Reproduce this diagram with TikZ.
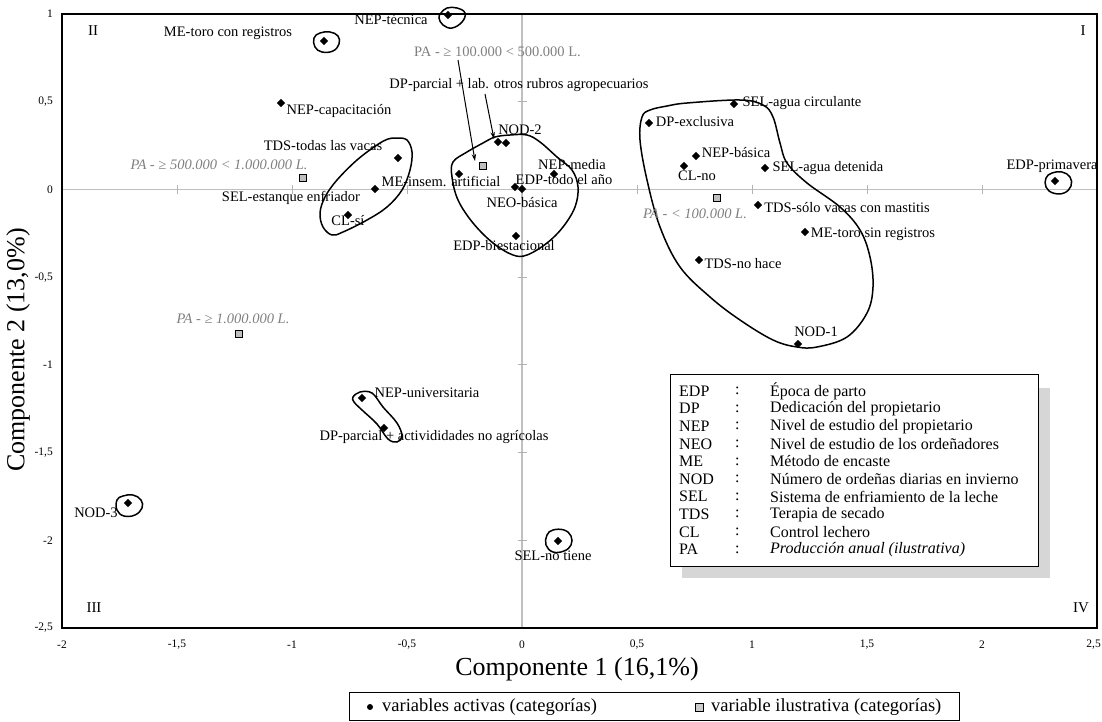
\documentclass[tikz,border=0pt]{standalone}
\usepackage{fontspec}
\setmainfont{Liberation Serif}
\usetikzlibrary{shapes.geometric,arrows.meta}
\begin{document}
\begin{tikzpicture}[x=1pt,y=-1pt,
  act/.style={diamond,fill=black,inner sep=0pt,minimum size=8.5pt},
  ilu/.style={rectangle,draw=black,fill=black!25,line width=0.8pt,inner sep=0pt,minimum size=7pt},
  lbl/.style={font=\fontsize{14.5}{16}\selectfont,inner sep=0pt,text=black},
  palbl/.style={inner sep=0pt,text=black!50,font=\fontsize{14.5}{16}\selectfont\itshape},
  blob/.style={draw=black,line width=1.5pt},
  axisline/.style={draw=black!25,line width=1.5pt},
  tickmark/.style={draw=black!30,line width=1pt},
  ticklbl/.style={font=\fontsize{11.5}{13}\selectfont,inner sep=0pt},
  quad/.style={font=\fontsize{15}{17}\selectfont,inner sep=0pt},
  axtitle/.style={font=\fontsize{26}{30}\selectfont,inner sep=0pt},
  legtxt/.style={font=\fontsize{16}{18}\selectfont,inner sep=0pt,anchor=west},
  arr/.style={-{Stealth[length=7pt,width=4.5pt]},line width=1pt}
]
\useasboundingbox (0,0) rectangle (1102,721);
\fill[white] (0,0) rectangle (1102,721);

% axis lines through the origin
\draw[axisline] (62,189.4) -- (1097,189.4);
\draw[axisline] (522,14) -- (522,628);
\foreach \x in {62,177,292,407,522,637,752,867,982,1097}
  \draw[tickmark] (\x,185) -- (\x,194);
\foreach \y in {14,101.7,189.4,277.1,364.9,452.6,540.3,628}
  \draw[tickmark] (517.5,\y) -- (526.5,\y);

% frame
\draw[black,line width=1.3pt] (62,14) rectangle (1097,628);

% tick labels
\foreach \x/\t in {62/{-2},177/{-1,5},292/{-1},407/{-0,5},522/0,637/{0,5},752/1,867/{1,5},982/2}
  \node[ticklbl] (xt\x) at (\x,645) {\t};
\node[ticklbl,anchor=east] (xt1097) at (1101,645) {2,5};
\foreach \y/\t in {14/1,101.7/{0,5},189.4/0,277.1/{-0,5},364.9/{-1},452.6/{-1,5},540.3/{-2},628/{-2,5}}
  \node[ticklbl,anchor=east] (yt\y) at (53,\y) {\t};

% quadrant numbers
\node[quad] (q2) at (93,31) {II};
\node[quad] (q1) at (1083,31) {I};
\node[quad] (q3) at (94,608) {III};
\node[quad] (q4) at (1081,608) {IV};

% axis titles
\node[axtitle] (xtitle) at (577,669) {Componente 1 (16,1\%)};
\node[axtitle,rotate=90] (ytitle) at (18,350) {Componente 2 (13,0\%)};

% groups
\draw[blob] plot[smooth cycle,tension=0.7] coordinates {(441,13) (447,8) (457,8) (465,13) (462,22) (452,28) (443,25) (439,18)};
\draw[blob] plot[smooth cycle,tension=0.7] coordinates {(314,38) (320,33) (330,32) (338,36) (339,44) (333,51) (322,52) (315,47)};
\draw[blob] plot[smooth cycle,tension=0.7] coordinates {(1046,178) (1052,173) (1062,172) (1070,177) (1071,186) (1064,193) (1053,193) (1046,187)};
\draw[blob] plot[smooth cycle,tension=0.7] coordinates {(117,500) (123,496) (133,495) (141,500) (142,508) (135,515) (124,516) (117,510)};
\draw[blob] plot[smooth cycle,tension=0.7] coordinates {(547,535) (553,530) (564,530) (571,536) (571,545) (564,551) (553,552) (546,545)};
\draw[blob] plot[smooth cycle,tension=0.6] coordinates {(397,138) (407,140) (412,152) (410,170) (402,190) (387,207) (367,220) (343,232) (332,235) (323,227) (320,213) (325,197) (337,180) (357,160) (377,145) (388,139)};
\draw[blob] plot[smooth cycle,tension=0.6] coordinates {(495,137) (510,135) (527,135) (540,142) (557,157) (572,170) (578,187) (575,207) (563,227) (547,243) (527,255) (513,255) (493,243) (473,223) (458,200) (452,177) (453,162) (467,152) (483,143)};
\draw[blob] plot[smooth cycle,tension=0.6] coordinates {(667,106) (687,103) (740,100) (763,105) (773,117) (780,143) (787,163) (807,183) (840,207) (860,230) (870,257) (873,287) (867,313) (847,337) (817,347) (797,347) (773,340) (740,320) (710,297) (680,267) (660,227) (647,180) (640,140) (642,117) (650,110)};
\draw[blob] plot[smooth cycle,tension=0.6] coordinates {(353,397) (360,392) (372,393) (383,407) (397,423) (402,436) (397,442) (388,439) (377,424) (362,410) (354,402)};

% active categories (points)
\node[act] (neptec) at (448,15) {};
\node[act] (metcr) at (324,41) {};
\node[act] (nepcap) at (281,103) {};
\node[act] (tdstod) at (398,158) {};
\node[act] (selest) at (375,189) {};
\node[act] (clsi) at (348,215) {};
\node[act] (meins) at (459,174) {};
\node[act] (nod2) at (498,142) {};
\node[act] (dplab) at (506,143) {};
\node[act] (nepmed) at (554,174) {};
\node[act] (neobas) at (515,187) {};
\node[act] (edptod) at (522,189) {};
\node[act] (edpbie) at (516,236) {};
\node[act] (selcir) at (734,104) {};
\node[act] (dpexc) at (649,123) {};
\node[act] (nepbas) at (696,156) {};
\node[act] (clno) at (684,166) {};
\node[act] (seldet) at (765,168) {};
\node[act] (edppri) at (1055,181) {};
\node[act] (tdssol) at (758,205) {};
\node[act] (metsr) at (805,232) {};
\node[act] (tdsno) at (699,260) {};
\node[act] (nod1) at (798,344) {};
\node[act] (nepuni) at (362,398) {};
\node[act] (dpact) at (384,428) {};
\node[act] (nod3) at (128,503) {};
\node[act] (selno) at (558,541) {};

% illustrative categories (squares)
\node[ilu] (pa2) at (483,166) {};
\node[ilu] (pa3) at (303,178) {};
\node[ilu] (pa1) at (717,198) {};
\node[ilu] (pa4) at (239,334) {};

% labels
\node[lbl] (l-neptec) at (391,20) {NEP-técnica};
\node[lbl] (l-metcr) at (228,33) {ME-toro con registros};
\node[lbl] (l-nepcap) at (339,111) {NEP-capacitación};
\node[lbl] (l-tdstod) at (323,146) {TDS-todas las vacas};
\node[lbl] (l-meins) at (441,181) {ME-insem. artificial};
\node[lbl] (l-selest) at (291,198) {SEL-estanque enfriador};
\node[lbl] (l-clsi) at (348,221) {CL-sí};
\node[lbl] (l-nod2) at (520,130) {NOD-2};
\node[lbl] (l-nepmed) at (572,165) {NEP-media};
\node[lbl] (l-edptod) at (564,180) {EDP-todo el año};
\node[lbl] (l-neobas) at (522,203) {NEO-básica};
\node[lbl] (l-edpbie) at (504,246) {EDP-biestacional};
\node[lbl] (l-dplab) at (519,85) {DP-parcial + lab. otros rubros agropecuarios};
\node[lbl] (l-selcir) at (802,103) {SEL-agua circulante};
\node[lbl] (l-dpexc) at (695,122) {DP-exclusiva};
\node[lbl] (l-nepbas) at (736,153) {NEP-básica};
\node[lbl] (l-clno) at (697,176) {CL-no};
\node[lbl] (l-seldet) at (828,168) {SEL-agua detenida};
\node[lbl] (l-edppri) at (1052,166) {EDP-primavera};
\node[lbl] (l-tdssol) at (847,208) {TDS-sólo vacas con mastitis};
\node[lbl] (l-metsr) at (873,234) {ME-toro sin registros};
\node[lbl] (l-tdsno) at (743,264) {TDS-no hace};
\node[lbl] (l-nod1) at (816,332) {NOD-1};
\node[lbl] (l-nepuni) at (427,393) {NEP-universitaria};
\node[lbl] (l-dpact) at (434,437) {DP-parcial + activididades no agrícolas};
\node[lbl] (l-nod3) at (96,513) {NOD-3};
\node[lbl] (l-selno) at (553,556) {SEL-no tiene};

\node[inner sep=0pt,text=black!50,font=\fontsize{14.5}{16}\selectfont] (l-pa2) at (497.5,52) {PA - ≥ 100.000 < 500.000 L.};
\node[palbl] (l-pa3) at (219,165) {PA - ≥ 500.000 < 1.000.000 L.};
\node[palbl] (l-pa1) at (695,214) {PA - < 100.000 L.};
\node[palbl] (l-pa4) at (233,319) {PA - ≥ 1.000.000 L.};

% arrows
\coordinate (a1s) at (458,60);
\coordinate (a1e) at (475,161);
\coordinate (a2s) at (485,94);
\coordinate (a2e) at (494,139);
\draw[arr] (a1s) -- (a1e);
\draw[arr] (a2s) -- (a2e);

% abbreviations box
\fill[black!16] (682,388) rectangle (1050,578);
\draw[black,line width=1pt,fill=white] (670,374) rectangle (1038,566);
\foreach \i/\a/\d in {0/EDP/Época de parto,1/DP/Dedicación del propietario,2/NEP/Nivel de estudio del propietario,3/NEO/Nivel de estudio de los ordeñadores,4/ME/Método de encaste,5/NOD/Número de ordeñas diarias en invierno,6/SEL/Sistema de enfriamiento de la leche,7/TDS/Terapia de secado,8/CL/Control lechero,9/PA/\textit{Producción anual (ilustrativa)}}{
  \node[legtxt] (ab\i) at (679,391+17.6*\i) {\a};
  \node[legtxt] (co\i) at (735,391+17.6*\i) {:};
  \node[legtxt] (de\i) at (770,391+17.6*\i) {\d};
}

% symbol legend
\draw[black,line width=1pt] (349,692) rectangle (959,720);
\node[circle,fill=black,inner sep=0pt,minimum size=6pt] (lgact) at (370,707) {};
\node[font=\fontsize{18.5}{20}\selectfont,inner sep=0pt,anchor=west] (lgacttxt) at (382,707) {variables activas (categorías)};
\node[ilu,minimum size=8pt,fill=black!20] (lgilu) at (699,707) {};
\node[font=\fontsize{18.5}{20}\selectfont,inner sep=0pt,anchor=west] (lgilutxt) at (711,707) {variable ilustrativa (categorías)};
\end{tikzpicture}
\end{document}
